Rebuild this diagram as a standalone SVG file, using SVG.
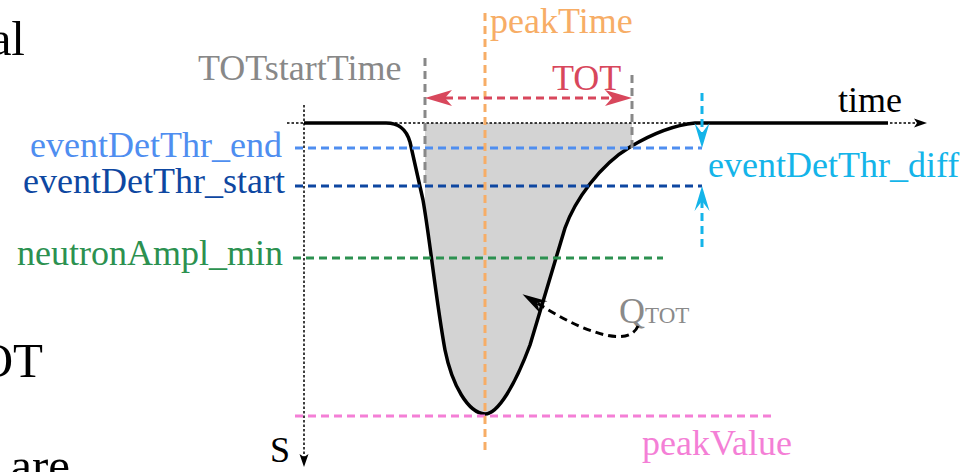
<svg xmlns="http://www.w3.org/2000/svg" width="973" height="472" viewBox="0 0 973 472">
<style>
text{font-family:"Liberation Serif","Times New Roman",serif;font-size:36px}
.frag{font-size:49px;fill:#000}
.dash{fill:none;stroke-width:3;stroke-dasharray:8 5}
.axis{fill:none;stroke:#000;stroke-width:1.5;stroke-dasharray:2.5 2}
</style>
<defs>
<clipPath id="totClip"><rect x="425" y="100" width="207" height="330"/></clipPath>
<marker id="redHead" markerUnits="userSpaceOnUse" markerWidth="30" markerHeight="18" refX="7" refY="8" orient="auto-start-reverse" overflow="visible">
<path d="M27,8 L0,0 L7,8 L0,16 Z" fill="#d8475c"/>
</marker>
<marker id="cyanHead" markerUnits="userSpaceOnUse" markerWidth="26" markerHeight="16" refX="10" refY="7.5" orient="auto" overflow="visible">
<path d="M25,7.5 L0,0 L10,7.5 L0,15 Z" fill="#14b4e9"/>
</marker>
<marker id="blackHead" markerUnits="userSpaceOnUse" markerWidth="26" markerHeight="16" refX="8" refY="7" orient="auto" overflow="visible">
<path d="M25,7 L0,0 L8,7 L0,14 Z" fill="#000"/>
</marker>
<marker id="axisHead" markerUnits="userSpaceOnUse" markerWidth="14" markerHeight="10" refX="3" refY="4.5" orient="auto" overflow="visible">
<path d="M13,4.5 L0,0 L3,4.5 L0,9 Z" fill="#000"/>
</marker>
</defs>

<g id="fragments">
<text class="frag" x="25" y="55" text-anchor="end">al</text>
<text class="frag" x="43" y="377" text-anchor="end">OT</text>
<text class="frag" x="70" y="482" text-anchor="end">are</text>
</g>

<g id="charge-area">
<path clip-path="url(#totClip)" fill="#d3d3d3" d="M386 123 C398 123 406 128 410 142 L423 200 C430 240 436 300 445 350 C452 385 468 413 485 414 C498 414 515 385 530 345 L565 228 C575 200 600 165 630 147 C655 132 675 125 695 123 Z"/>
</g>

<g id="axes">
<path class="axis" d="M287 123 L917 123" marker-end="url(#axisHead)"/>
<path class="axis" d="M304 105 L304 457" marker-end="url(#axisHead)"/>
<text x="838" y="112" fill="#000">time</text>
<text x="270" y="462" fill="#000">S</text>
</g>

<g id="signal">
<path fill="none" stroke="#000" stroke-width="3.5" stroke-linejoin="round" d="M304 123 L386 123 C398 123 406 128 410 142 L423 200 C430 240 436 300 445 350 C452 385 468 413 485 414 C498 414 515 385 530 345 L565 228 C575 200 600 165 630 147 C655 132 675 125 695 123 L888 123"/>
</g>

<g id="eventDetThr_end">
<path class="dash" stroke="#4f8ef0" d="M295 148 L702 148"/>
<text x="282" y="157" text-anchor="end" fill="#4f8ef0">eventDetThr_end</text>
</g>

<g id="eventDetThr_start">
<path class="dash" stroke="#0e47a1" d="M295 186 L702 186"/>
<text x="285" y="193" text-anchor="end" fill="#0e47a1">eventDetThr_start</text>
</g>

<g id="neutronAmpl_min">
<path class="dash" stroke="#2c9150" d="M293 258 L663 258"/>
<text x="283" y="265" text-anchor="end" fill="#2c9150">neutronAmpl_min</text>
</g>

<g id="peakValue">
<path class="dash" stroke="#f47fd6" d="M295 416 L773 416"/>
<text x="642" y="455" fill="#f47fd6">peakValue</text>
</g>

<g id="TOTstartTime">
<path class="dash" stroke="#888" stroke-dasharray="13 4" d="M425 58 L425 187"/>
<text x="198" y="80" fill="#888">TOTstartTime</text>
</g>

<g id="TOTend">
<path class="dash" stroke="#888" stroke-dasharray="13 4" d="M632 75 L632 148"/>
</g>

<g id="peakTime">
<path class="dash" stroke="#f7ad66" stroke-dasharray="11 5" d="M485 13 L485 453"/>
<text x="490" y="33" fill="#f7ad66">peakTime</text>
</g>

<g id="QTOT">
<text x="619" y="323" fill="#8a8a8a">Q<tspan font-size="23">TOT</tspan></text>
</g>

<g id="TOT">
<text x="552" y="90" fill="#d8475c">TOT</text>
</g>

<g id="eventDetThr_diff">
<text x="708" y="177" fill="#14b4e9">eventDetThr_diff</text>
</g>

<g id="connectors">
<path class="dash" stroke="#d8475c" stroke-dasharray="12 5" d="M445 98 L612 98" marker-start="url(#redHead)" marker-end="url(#redHead)"/>
<path class="dash" stroke="#14b4e9" stroke-dasharray="5 3" d="M702 93 L702 133" marker-end="url(#cyanHead)"/>
<path class="dash" stroke="#14b4e9" stroke-dasharray="5 3" d="M702 247 L702 201" marker-end="url(#cyanHead)"/>
<path class="dash" stroke="#000" stroke-dasharray="8 5" d="M638 326 C632 340 612 338 595 332 C575 326 555 314 537 303" marker-end="url(#blackHead)"/>
</g>
</svg>
